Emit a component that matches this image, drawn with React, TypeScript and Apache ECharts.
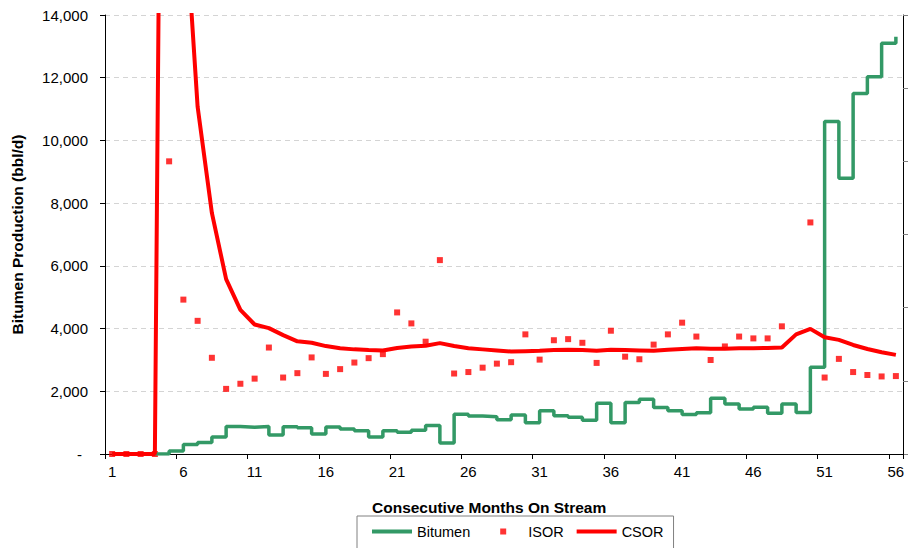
import React, { useEffect, useRef } from "react";
import * as echarts from "echarts";

const FONT = '"Liberation Sans", Arial, sans-serif';

const months: string[] = Array.from({ length: 56 }, (_, i) => String(i + 1));

// Bitumen production (bbl/d), left axis
const bitumen: number[] = [
  0, 0, 0, 0, 95, 305, 370, 545, 875, 855,
  875, 605, 870, 840, 640, 860, 800, 745, 540, 745,
  690, 755, 910, 350, 1265, 1210, 1190, 1090, 1240, 1000,
  1380, 1220, 1170, 1075, 1615, 1000, 1640, 1745, 1480, 1380,
  1260, 1315, 1775, 1595, 1435, 1490, 1300, 1595, 1320, 2765,
  10600, 8790, 11500, 12030, 13100, 13310,
];

// Instantaneous SOR, secondary axis
const isor: (number | null)[] = [
  0, 0, 0, 0, 8.0, 4.22, 3.64, 2.63, 1.78, 1.92,
  2.06, 2.91, 2.09, 2.21, 2.64, 2.19, 2.32, 2.5, 2.62, 2.73,
  3.87, 3.57, 3.07, 5.3, 2.2, 2.24, 2.36, 2.47, 2.51, 3.27,
  2.58, 3.11, 3.14, 3.04, 2.49, 3.37, 2.66, 2.59, 2.99, 3.27,
  3.59, 3.21, 2.57, 2.94, 3.21, 3.16, 3.16, 3.49, null, 6.33,
  2.09, 2.6, 2.24, 2.16, 2.12, 2.13,
];

// Cumulative SOR, secondary axis
const csor: number[] = [
  0, 0, 0, 0, 47, 15.5, 9.49, 6.59, 4.78, 3.94,
  3.54, 3.44, 3.25, 3.08, 3.04, 2.95, 2.89, 2.86, 2.84, 2.83,
  2.9, 2.94, 2.96, 3.03, 2.95, 2.89, 2.86, 2.83, 2.8, 2.81,
  2.82, 2.84, 2.85, 2.84, 2.82, 2.85, 2.84, 2.83, 2.82, 2.85,
  2.87, 2.89, 2.88, 2.88, 2.89, 2.89, 2.9, 2.91, 3.27, 3.42,
  3.19, 3.12, 2.98, 2.87, 2.78, 2.71,
];

const leftTicks = { min: 0, max: 14000, interval: 2000 };
const rightTicks = { min: 0, max: 12, interval: 2 };

const LINE_ICON = "path://M0,0h40v4h-40z";
const DOT_ICON = "path://M0,3L0,3M17,0h6v6h-6zM40,3L40,3";

export default function App() {
  const ref = useRef<HTMLDivElement>(null);

  useEffect(() => {
    if (!ref.current) return;
    const chart = echarts.init(ref.current, undefined, { renderer: "svg" });
    chart.setOption({
      animation: false,
      backgroundColor: "#ffffff",
      grid: { left: 105, right: 6, top: 15, bottom: 94, containLabel: false },
      legend: {
        left: 357,
        top: 516,
        padding: [8, 10, 20, 15],
        itemWidth: 40,
        itemHeight: 6,
        itemGap: 13,
        symbolKeepAspect: true,
        borderColor: "#808080",
        borderWidth: 1,
        textStyle: { fontFamily: FONT, fontSize: 14.5, color: "#000" },
        data: [
          { name: "Bitumen", icon: LINE_ICON },
          { name: "ISOR", icon: DOT_ICON },
          { name: "CSOR", icon: LINE_ICON },
        ],
      },
      graphic: [
        {
          type: "text",
          left: 372,
          top: 499,
          style: {
            text: "Consecutive Months On Stream",
            font: `bold 15.5px ${FONT}`,
            fill: "#000",
          },
        },
      ],
      xAxis: {
        type: "category",
        data: months,
        boundaryGap: true,
        axisLine: { show: true, lineStyle: { color: "#000", width: 1 } },
        axisTick: { show: true, interval: 4, length: 5, lineStyle: { color: "#000" } },
        axisLabel: { interval: 4, fontFamily: FONT, fontSize: 15, color: "#000", margin: 10 },
        splitLine: { show: false },
      },
      yAxis: [
        {
          type: "value",
          min: leftTicks.min,
          max: leftTicks.max,
          interval: leftTicks.interval,
          name: "Bitumen Production (bbl/d)",
          nameLocation: "middle",
          nameGap: 80,
          nameTextStyle: { fontFamily: FONT, fontSize: 15.5, fontWeight: "bold", color: "#000" },
          axisLine: { show: true, lineStyle: { color: "#000", width: 1 } },
          axisTick: { show: true, length: 5, lineStyle: { color: "#000" } },
          axisLabel: {
            fontFamily: FONT,
            fontSize: 15,
            color: "#000",
            margin: 17,
            formatter: (v: number) => (v === 0 ? "{z|-}" : v.toLocaleString("en-US")),
            rich: { z: { fontFamily: FONT, fontSize: 15, color: "#000", padding: [0, 6, 0, 0] } },
          },
          splitLine: { show: true, lineStyle: { color: "#d4d4d4", type: [5, 4], width: 1 } },
        },
        {
          type: "value",
          position: "right",
          min: rightTicks.min,
          max: rightTicks.max,
          interval: rightTicks.interval,
          axisLine: { show: true, lineStyle: { color: "#000", width: 1 } },
          axisTick: { show: true, length: 5, lineStyle: { color: "#808080" } },
          axisLabel: { show: false },
          splitLine: { show: false },
        },
      ],
      series: [
        {
          name: "Bitumen",
          type: "line",
          step: "end",
          yAxisIndex: 0,
          data: bitumen,
          symbol: "none",
          color: "#339966",
          lineStyle: { color: "#339966", width: 3.5 },
        },
        {
          name: "ISOR",
          type: "scatter",
          yAxisIndex: 1,
          data: isor,
          symbol: "rect",
          symbolSize: 6,
          color: "#ff0000",
          itemStyle: { color: "#ff0000" },
        },
        {
          name: "CSOR",
          type: "line",
          yAxisIndex: 1,
          data: csor,
          symbol: "none",
          clip: true,
          color: "#ff0000",
          lineStyle: { color: "#ff0000", width: 4 },
        },
      ],
    });
    return () => chart.dispose();
  }, []);

  return (
    <div
      ref={ref}
      style={{ position: "fixed", left: 0, top: 0, width: 909, height: 548, background: "#fff" }}
    />
  );
}
